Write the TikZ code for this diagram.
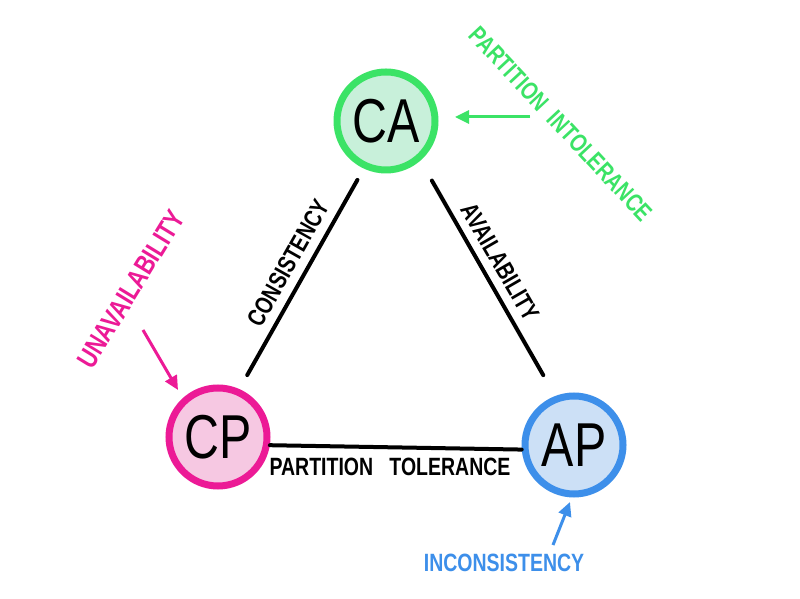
\documentclass[tikz,border=0pt]{standalone}
\usepackage{fontspec}
\setmainfont{Liberation Sans}[FakeStretch=0.78]
\usetikzlibrary{arrows.meta}
\definecolor{gcol}{HTML}{3BE366}
\definecolor{gfill}{HTML}{C8F0DA}
\definecolor{mcol}{HTML}{EC1A96}
\definecolor{mfill}{HTML}{F6C8E2}
\definecolor{bcol}{HTML}{3D8FEA}
\definecolor{bfill}{HTML}{CCE0F6}
\tikzset{
  vertex/.style={circle, minimum size=98pt, line width=7pt, inner sep=0pt,
    font=\fontsize{62}{62}\selectfont},
  edge/.style={line width=4pt, line cap=round},
  elabel/.style={font=\bfseries\fontsize{25}{25}\selectfont, inner sep=0pt},
  note/.style={font=\bfseries\fontsize{25}{25}\selectfont, inner sep=0pt},
  pointer/.style={line width=3pt, -{Triangle[length=14pt,width=13pt]}},
}
\begin{document}
\begin{tikzpicture}[x=1pt,y=1pt]
\useasboundingbox[fill=white] (0,0) rectangle (800,599);
\node[vertex, draw=gcol, fill=gfill] (CA) at (386,478) {CA};
\node[vertex, draw=mcol, fill=mfill] (CP) at (218,162) {CP};
\node[vertex, draw=bcol, fill=bfill] (AP) at (574,154) {AP};

\draw[edge, shorten <=13pt, shorten >=16pt] (CA.-115) -- (CP.66);
\draw[edge, shorten <=23pt, shorten >=24pt] (CA.-49) -- (AP.111);
\draw[edge] (CP.-9) -- (AP.-175);

\node[elabel, rotate=60.6] (lcons) at (288,336) {CONSISTENCY};
\node[elabel, rotate=-60] (lavail) at (500,337) {AVAILABILITY};
\node[elabel] (lpt) at (390,132) {PARTITION\ \ \ TOLERANCE};

\node[note, text=gcol, rotate=-47] (npi) at (561,475) {PARTITION\ \ INTOLERANCE};
\node[note, text=mcol, rotate=58.5, font=\bfseries\fontsize{28}{28}\selectfont] (nun) at (131,310) {UNAVAILABILITY};
\node[note, text=bcol] (nin) at (504,36) {INCONSISTENCY};

\coordinate (gs) at (530,482);
\coordinate (ge) at (455,482);
\coordinate (ms) at (143,269);
\coordinate (me) at (178,209);
\coordinate (bs) at (553,54);
\coordinate (be) at (570,97);
\draw[pointer, draw=gcol, fill=gcol] (gs) -- (ge);
\draw[pointer, draw=mcol, fill=mcol] (ms) -- (me);
\draw[pointer, draw=bcol, fill=bcol] (bs) -- (be);
\end{tikzpicture}
\end{document}
